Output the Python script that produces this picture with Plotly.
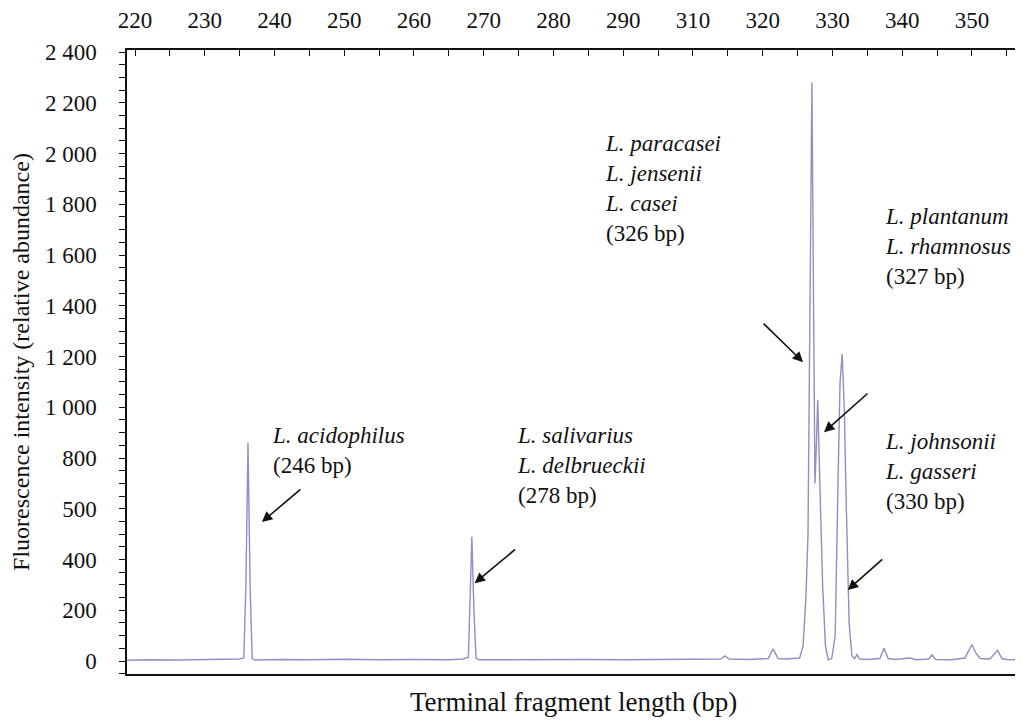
import plotly.graph_objects as go

# Top-axis tick labels (note: the printed scale skips "300")
tick_labels = ["220", "230", "240", "250", "260", "270", "280", "290",
               "310", "320", "330", "340", "350"]
tick_positions = [220 + 10 * i for i in range(len(tick_labels))]

y_tick_values = [0, 200, 400, 600, 800, 1000, 1200, 1400, 1600, 1800, 2000, 2200, 2400]
y_tick_labels = ["0", "200", "400", "500", "800", "1 000", "1 200", "1 400",
                 "1 600", "1 800", "2 000", "2 200", "2 400"]

# Electropherogram trace (position on the top scale, fluorescence intensity)
fragment_pos = [218.9, 222, 226, 230, 233, 235.0, 235.6, 235.9, 236.2, 236.5, 236.8, 237.2,
                241, 245, 250, 255, 260, 265, 267.0, 267.8, 268.0, 268.3, 268.6, 268.9, 269.3,
                275, 280, 285, 290, 295, 300, 304.0, 304.6, 305.2, 308, 310.8, 311.5, 312.2,
                313.5, 315.3, 315.8, 316.2, 316.5, 316.8, 317.06, 317.3, 317.5, 317.7, 317.9,
                318.2, 318.6, 319.0, 319.4, 319.9, 320.4, 320.8, 321.1, 321.4, 321.7, 322.0,
                322.4, 322.8, 323.2, 323.5, 323.9, 325, 326.8, 327.4, 328.0, 329, 331.1, 332,
                333.8, 334.3, 334.8, 337, 339.0, 340.0, 340.6, 341.2, 342.6, 343.7, 344.3, 345,
                346.9]
intensity = [3, 5, 4, 6, 5, 8, 12, 300, 860, 300, 10, 4,
             6, 5, 7, 5, 6, 5, 8, 15, 200, 490, 200, 12, 5,
             6, 5, 6, 5, 6, 5, 8, 20, 8, 6, 10, 48, 10,
             8, 12, 60, 250, 500, 1500, 2280, 1400, 700, 850, 1030,
             700, 300, 60, 5, 10, 100, 700, 1100, 1210, 1000, 600,
             150, 20, 10, 25, 8, 6, 10, 50, 10, 6, 12, 5,
             8, 24, 6, 5, 12, 65, 30, 10, 8, 43, 10, 6,
             5]

# Peak labels: (lines, x, y)
peak_labels = [
    (["<i>L. acidophilus</i>", "(246 bp)"], 239.3, 946),
    (["<i>L. salivarius</i>", "<i>L. delbrueckii</i>", "(278 bp)"], 274.5, 946),
    (["<i>L. paracasei</i>", "<i>L. jensenii</i>", "<i>L. casei</i>", "(326 bp)"], 287.1, 2097),
    (["<i>L. plantanum</i>", "<i>L. rhamnosus</i>", "(327 bp)"], 327.2, 1809),
    (["<i>L. johnsonii</i>", "<i>L. gasseri</i>", "(330 bp)"], 327.2, 922),
]
# Arrows: (tip x, tip y, ax px, ay px)
arrows = [(238.2, 548, 40, -34), (268.7, 307, 42, -35), (315.8, 1178, -41, -40),
          (318.8, 902, 45, -40), (322.2, 280, 36, -32)]

FONT = "Liberation Serif"
x_range = [218.85, 346.9]

fig = go.Figure()
fig.add_trace(go.Scatter(x=fragment_pos, y=intensity, mode="lines",
                         line=dict(color="#8f8fc4", width=1.4),
                         xaxis="x2", yaxis="y", hoverinfo="skip", showlegend=False))
fig.add_trace(go.Scatter(x=[x_range[0]], y=[0], mode="markers", marker=dict(opacity=0),
                         xaxis="x", yaxis="y", hoverinfo="skip", showlegend=False))

annotations = []
for lines, x, y in peak_labels:
    annotations.append(dict(x=x, y=y, xref="x", yref="y", text="<br>".join(lines),
                            showarrow=False, xanchor="left", yanchor="top", align="left",
                            font=dict(family=FONT, size=23, color="#111")))
for x, y, ax, ay in arrows:
    annotations.append(dict(x=x, y=y, xref="x", yref="y", ax=ax, ay=ay, text="",
                            showarrow=True, arrowhead=2, arrowsize=1.3, arrowwidth=1.6,
                            arrowcolor="#111"))

fig.update_layout(
    width=1015, height=715,
    margin=dict(l=119, r=3, t=42, b=49),
    paper_bgcolor="white", plot_bgcolor="white",
    font=dict(family=FONT, size=23, color="#111"),
    xaxis=dict(range=x_range, showline=True, linecolor="#111", linewidth=1.5,
               ticks="", showticklabels=False, showgrid=False, zeroline=False,
               automargin=False,
               title=dict(text="Terminal fragment length (bp)", standoff=17,
                          font=dict(family=FONT, size=27))),
    xaxis2=dict(range=x_range, overlaying="x", side="top", anchor="y",
                showline=True, linecolor="#111", linewidth=1.5,
                tickvals=tick_positions, ticktext=tick_labels,
                ticks="inside", ticklen=6, tickcolor="#111",
                minor=dict(dtick=5, tick0=220, ticks="inside", ticklen=6, tickcolor="#111"),
                tickfont=dict(family=FONT, size=23), ticklabelstandoff=11,
                showgrid=False, zeroline=False, automargin=False),
    yaxis=dict(range=[-51, 2408], showline=True, linecolor="#111", linewidth=1.5,
               tickvals=y_tick_values, ticktext=y_tick_labels,
               ticks="outside", ticklen=6, tickcolor="#111",
               minor=dict(dtick=50, tick0=0, ticks="outside", ticklen=6, tickcolor="#111"),
               tickfont=dict(family=FONT, size=23), ticklabelstandoff=18,
               showgrid=False, zeroline=False, automargin=False,
               title=dict(text="Fluorescence intensity (relative abundance)", standoff=10,
                          font=dict(family=FONT, size=24))),
    annotations=annotations,
)

fig.write_html("out.html")
